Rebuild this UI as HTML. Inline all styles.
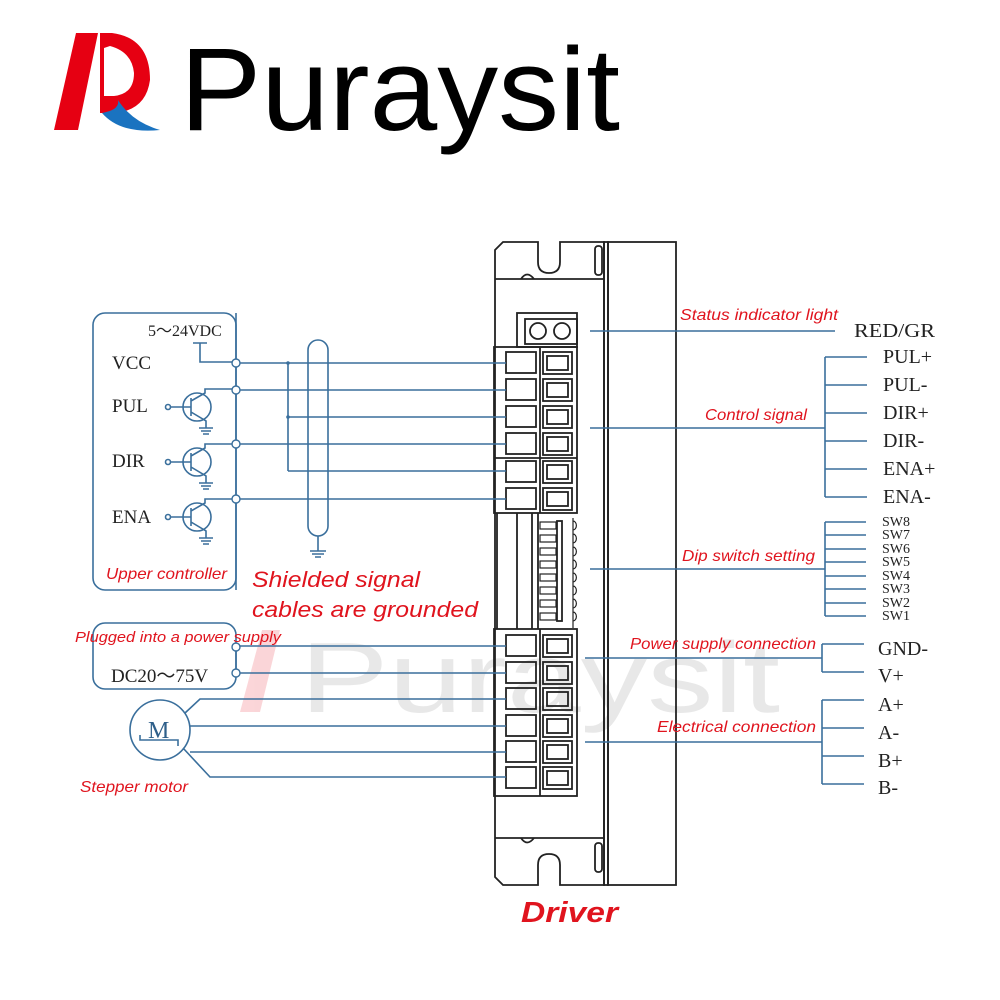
<!DOCTYPE html>
<html><head><meta charset="utf-8"><style>
html,body{margin:0;padding:0;background:#fff;}
svg{display:block;}
.b{stroke:#3a6f9c;stroke-width:1.6;fill:none;}
.k{stroke:#222;stroke-width:1.8;fill:none;}
.lab{font-family:"Liberation Serif",serif;fill:#222;}
.red{font-family:"Liberation Sans",sans-serif;font-style:italic;fill:#e0141e;}
</style></head><body>
<svg width="1000" height="1000" viewBox="0 0 1000 1000" xmlns="http://www.w3.org/2000/svg">
<!-- logo -->
<polygon points="76,33 98,33 78,130 54,130" fill="#e60012"/>
<path fill-rule="evenodd" fill="#e60012" d="M100,33 L112,33 Q150,38 150,80 Q146,110 115,113 L100,113 Z M104,48 L104,96 L114,96 Q134,94 134,73 Q132,52 110,46 Z"/>
<path d="M102,113 Q120,110 118,100 Q132,122 160,130 Q120,134 102,113 Z" fill="#1a73c0"/>
<text x="180" y="130" font-family="Liberation Sans,sans-serif" font-size="118" fill="#000" textLength="440" lengthAdjust="spacingAndGlyphs">Puraysit</text>

<!-- watermark -->
<g opacity="0.16">
<polygon points="262,630 280,630 260,712 240,712" fill="#e60012"/>
<text x="300" y="712" font-family="Liberation Sans,sans-serif" font-size="100" fill="#777" textLength="480" lengthAdjust="spacingAndGlyphs">Puraysit</text>
</g>

<!-- driver body -->
<path class="k" d="M503,242 L538,242 L538,262 Q538,273 549,273 Q560,273 560,262 L560,242 L604,242 L604,885 L560,885 L560,865 Q560,854 549,854 Q538,854 538,865 L538,885 L503,885 L495,877 L495,250 Z"/>
<rect class="k" x="604" y="242" width="4" height="643"/>
<rect class="k" x="608" y="242" width="68" height="643"/>
<line class="k" x1="495" y1="279" x2="604" y2="279"/>
<line class="k" x1="495" y1="838" x2="604" y2="838"/>
<rect class="k" x="595" y="246" width="7" height="29" rx="3"/>
<rect class="k" x="595" y="843" width="7" height="29" rx="3"/>
<path class="k" d="M521,279 Q527,270 534,279"/>
<path class="k" d="M521,838 Q527,847 534,838"/>
<!-- status -->
<rect class="k" x="517" y="313" width="60" height="34"/>
<rect class="k" x="525" y="319" width="52" height="25"/>
<circle class="k" cx="538" cy="331" r="8"/><circle class="k" cx="562" cy="331" r="8"/>
<!-- upper block -->
<rect class="k" x="494" y="347" width="83" height="166"/>
<line class="k" x1="540" y1="347" x2="540" y2="513"/>
<line class="k" x1="494" y1="458" x2="577" y2="458"/>
<g>
<rect class="k" x="506" y="352" width="30" height="21"/><rect class="k" x="543" y="352" width="29" height="22"/><rect class="k" x="547" y="356" width="21" height="14"/>
<rect class="k" x="506" y="379" width="30" height="21"/><rect class="k" x="543" y="379" width="29" height="22"/><rect class="k" x="547" y="383" width="21" height="14"/>
<rect class="k" x="506" y="406" width="30" height="21"/><rect class="k" x="543" y="406" width="29" height="22"/><rect class="k" x="547" y="410" width="21" height="14"/>
<rect class="k" x="506" y="433" width="30" height="21"/><rect class="k" x="543" y="433" width="29" height="22"/><rect class="k" x="547" y="437" width="21" height="14"/>
<rect class="k" x="506" y="461" width="30" height="21"/><rect class="k" x="543" y="461" width="29" height="22"/><rect class="k" x="547" y="465" width="21" height="14"/>
<rect class="k" x="506" y="488" width="30" height="21"/><rect class="k" x="543" y="488" width="29" height="22"/><rect class="k" x="547" y="492" width="21" height="14"/>
</g>
<!-- middle / dip -->
<line class="k" x1="497" y1="513" x2="497" y2="629"/>
<line class="k" x1="517" y1="513" x2="517" y2="629"/>
<line class="k" x1="532" y1="513" x2="532" y2="629"/>
<line class="k" x1="538" y1="513" x2="538" y2="629"/>
<rect class="k" x="557" y="521" width="5" height="100" stroke-width="1.2"/>
<g stroke="#222" stroke-width="1.2" fill="none">
<rect x="540" y="522" width="16" height="7"/><rect x="540" y="535" width="16" height="7"/><rect x="540" y="548" width="16" height="7"/><rect x="540" y="561" width="16" height="7"/>
<rect x="540" y="574" width="16" height="7"/><rect x="540" y="587" width="16" height="7"/><rect x="540" y="600" width="16" height="7"/><rect x="540" y="613" width="16" height="7"/>
<path d="M573,518 v110 M573,521 a3,4 0 0 1 0,9 M573,534 a3,4 0 0 1 0,9 M573,547 a3,4 0 0 1 0,9 M573,560 a3,4 0 0 1 0,9 M573,573 a3,4 0 0 1 0,9 M573,586 a3,4 0 0 1 0,9 M573,599 a3,4 0 0 1 0,9 M573,612 a3,4 0 0 1 0,9"/>
</g>
<!-- lower block -->
<rect class="k" x="494" y="629" width="83" height="167"/>
<line class="k" x1="540" y1="629" x2="540" y2="796"/>
<g>
<rect class="k" x="506" y="635" width="30" height="21"/><rect class="k" x="543" y="635" width="29" height="22"/><rect class="k" x="547" y="639" width="21" height="14"/>
<rect class="k" x="506" y="662" width="30" height="21"/><rect class="k" x="543" y="662" width="29" height="22"/><rect class="k" x="547" y="666" width="21" height="14"/>
<rect class="k" x="506" y="688" width="30" height="21"/><rect class="k" x="543" y="688" width="29" height="22"/><rect class="k" x="547" y="692" width="21" height="14"/>
<rect class="k" x="506" y="715" width="30" height="21"/><rect class="k" x="543" y="715" width="29" height="22"/><rect class="k" x="547" y="719" width="21" height="14"/>
<rect class="k" x="506" y="741" width="30" height="21"/><rect class="k" x="543" y="741" width="29" height="22"/><rect class="k" x="547" y="745" width="21" height="14"/>
<rect class="k" x="506" y="767" width="30" height="21"/><rect class="k" x="543" y="767" width="29" height="22"/><rect class="k" x="547" y="771" width="21" height="14"/>
</g>

<!-- controller box -->
<rect class="b" x="93" y="313" width="143" height="277" rx="12"/>
<text class="lab" x="148" y="336" font-size="16">5～24VDC</text>
<text class="lab" x="112" y="369" font-size="19">VCC</text>
<text class="lab" x="112" y="412" font-size="19">PUL</text>
<text class="lab" x="112" y="467" font-size="19">DIR</text>
<text class="lab" x="112" y="523" font-size="19">ENA</text>
<path class="b" d="M193,343 H207 M200,343 V362 H236"/>
<line class="b" x1="236" y1="313" x2="236" y2="590"/>
<g class="b">
<circle cx="197" cy="407" r="14"/><circle cx="168" cy="407" r="2.5"/><path d="M171,407 H191 M191,398 V416 M191,401 L205,393 V389 H236 M191,412 L206,421 V428 M199,428 H213 M201,431 H211 M203,434 H209"/>
<circle cx="197" cy="462" r="14"/><circle cx="168" cy="462" r="2.5"/><path d="M171,462 H191 M191,453 V471 M191,456 L205,448 V444 H236 M191,467 L206,476 V483 M199,483 H213 M201,486 H211 M203,489 H209"/>
<circle cx="197" cy="517" r="14"/><circle cx="168" cy="517" r="2.5"/><path d="M171,517 H191 M191,508 V526 M191,511 L205,503 V499 H236 M191,522 L206,531 V538 M199,538 H213 M201,541 H211 M203,544 H209"/>
</g>
<g fill="#fff" stroke="#3a6f9c" stroke-width="1.4">
<circle cx="236" cy="363" r="4"/><circle cx="236" cy="390" r="4"/><circle cx="236" cy="444" r="4"/><circle cx="236" cy="499" r="4"/>
</g>
<g class="b">
<path d="M240,363 H506 M240,390 H506 M288,417 H506 M240,444 H506 M288,471 H506 M240,499 H506 M288,363 V471"/>
<rect x="308" y="340" width="20" height="196" rx="10"/>
<path d="M318,536 V551 M310,551 H326 M312,554 H324 M315,557 H321"/>
</g>
<circle cx="288" cy="363" r="1.8" fill="#3a6f9c"/><circle cx="288" cy="417" r="1.8" fill="#3a6f9c"/>

<!-- power box -->
<rect class="b" x="93" y="623" width="143" height="66" rx="12"/>
<text class="lab" x="111" y="682" font-size="19">DC20～75V</text>
<path class="b" d="M236,650 V672 M240,646 H506 M240,673 H506"/>
<g fill="#fff" stroke="#3a6f9c" stroke-width="1.4"><circle cx="236" cy="647" r="4"/><circle cx="236" cy="673" r="4"/></g>
<!-- motor -->
<circle class="b" cx="160" cy="730" r="30"/>
<text x="148" y="738" font-family="Liberation Serif,serif" font-size="24" fill="#2e5f8a">M</text>
<path class="b" d="M140,735 V740 H178 V746"/>
<path class="b" d="M185,713 L200,699 H506 M190,726 H506 M190,752 H506 M183,748 L210,777 H506"/>

<!-- right leaders -->
<g class="b">
<path d="M590,331 H835"/>
<path d="M590,428 H825 M825,357 V497 M825,357 H867 M825,385 H867 M825,413 H867 M825,441 H867 M825,469 H867 M825,497 H867"/>
<path d="M590,569 H825 M825,522 V616 M825,522 H866 M825,535 H866 M825,549 H866 M825,562 H866 M825,576 H866 M825,589 H866 M825,603 H866 M825,616 H866"/>
<path d="M585,658 H822 M822,644 V672 M822,644 H864 M822,672 H864"/>
<path d="M585,742 H822 M822,700 V784 M822,700 H864 M822,728 H864 M822,756 H864 M822,784 H864"/>
</g>
<g class="lab">
<text x="854" y="337" font-size="20" textLength="81" lengthAdjust="spacingAndGlyphs">RED/GR</text>
<text x="883" y="363" font-size="20">PUL+</text>
<text x="883" y="391" font-size="20">PUL-</text>
<text x="883" y="419" font-size="20">DIR+</text>
<text x="883" y="447" font-size="20">DIR-</text>
<text x="883" y="475" font-size="20">ENA+</text>
<text x="883" y="503" font-size="20">ENA-</text>
<text x="882" y="526" font-size="14">SW8</text>
<text x="882" y="539" font-size="14">SW7</text>
<text x="882" y="553" font-size="14">SW6</text>
<text x="882" y="566" font-size="14">SW5</text>
<text x="882" y="580" font-size="14">SW4</text>
<text x="882" y="593" font-size="14">SW3</text>
<text x="882" y="607" font-size="14">SW2</text>
<text x="882" y="620" font-size="14">SW1</text>
<text x="878" y="655" font-size="20">GND-</text>
<text x="878" y="682" font-size="20">V+</text>
<text x="878" y="711" font-size="20">A+</text>
<text x="878" y="739" font-size="20">A-</text>
<text x="878" y="767" font-size="20">B+</text>
<text x="878" y="794" font-size="20">B-</text>
</g>
<!-- red labels -->
<text class="red" x="680" y="320" font-size="16" textLength="158" lengthAdjust="spacingAndGlyphs">Status indicator light</text>
<text class="red" x="705" y="420" font-size="16" textLength="102" lengthAdjust="spacingAndGlyphs">Control signal</text>
<text class="red" x="682" y="561" font-size="16" textLength="133" lengthAdjust="spacingAndGlyphs">Dip switch setting</text>
<text class="red" x="630" y="649" font-size="16" textLength="186" lengthAdjust="spacingAndGlyphs">Power supply connection</text>
<text class="red" x="657" y="732" font-size="16" textLength="159" lengthAdjust="spacingAndGlyphs">Electrical connection</text>
<text class="red" x="106" y="579" font-size="16" textLength="121" lengthAdjust="spacingAndGlyphs">Upper controller</text>
<text class="red" x="252" y="587" font-size="22" textLength="168" lengthAdjust="spacingAndGlyphs">Shielded signal</text>
<text class="red" x="252" y="617" font-size="22" textLength="226" lengthAdjust="spacingAndGlyphs">cables are grounded</text>
<text class="red" x="75" y="642" font-size="15" textLength="206" lengthAdjust="spacingAndGlyphs">Plugged into a power supply</text>
<text class="red" x="80" y="792" font-size="16" textLength="108" lengthAdjust="spacingAndGlyphs">Stepper motor</text>
<text x="521" y="922" font-family="Liberation Sans,sans-serif" font-weight="bold" font-style="italic" font-size="29" fill="#e0141e" textLength="97" lengthAdjust="spacingAndGlyphs">Driver</text>
</svg>
</body></html>
